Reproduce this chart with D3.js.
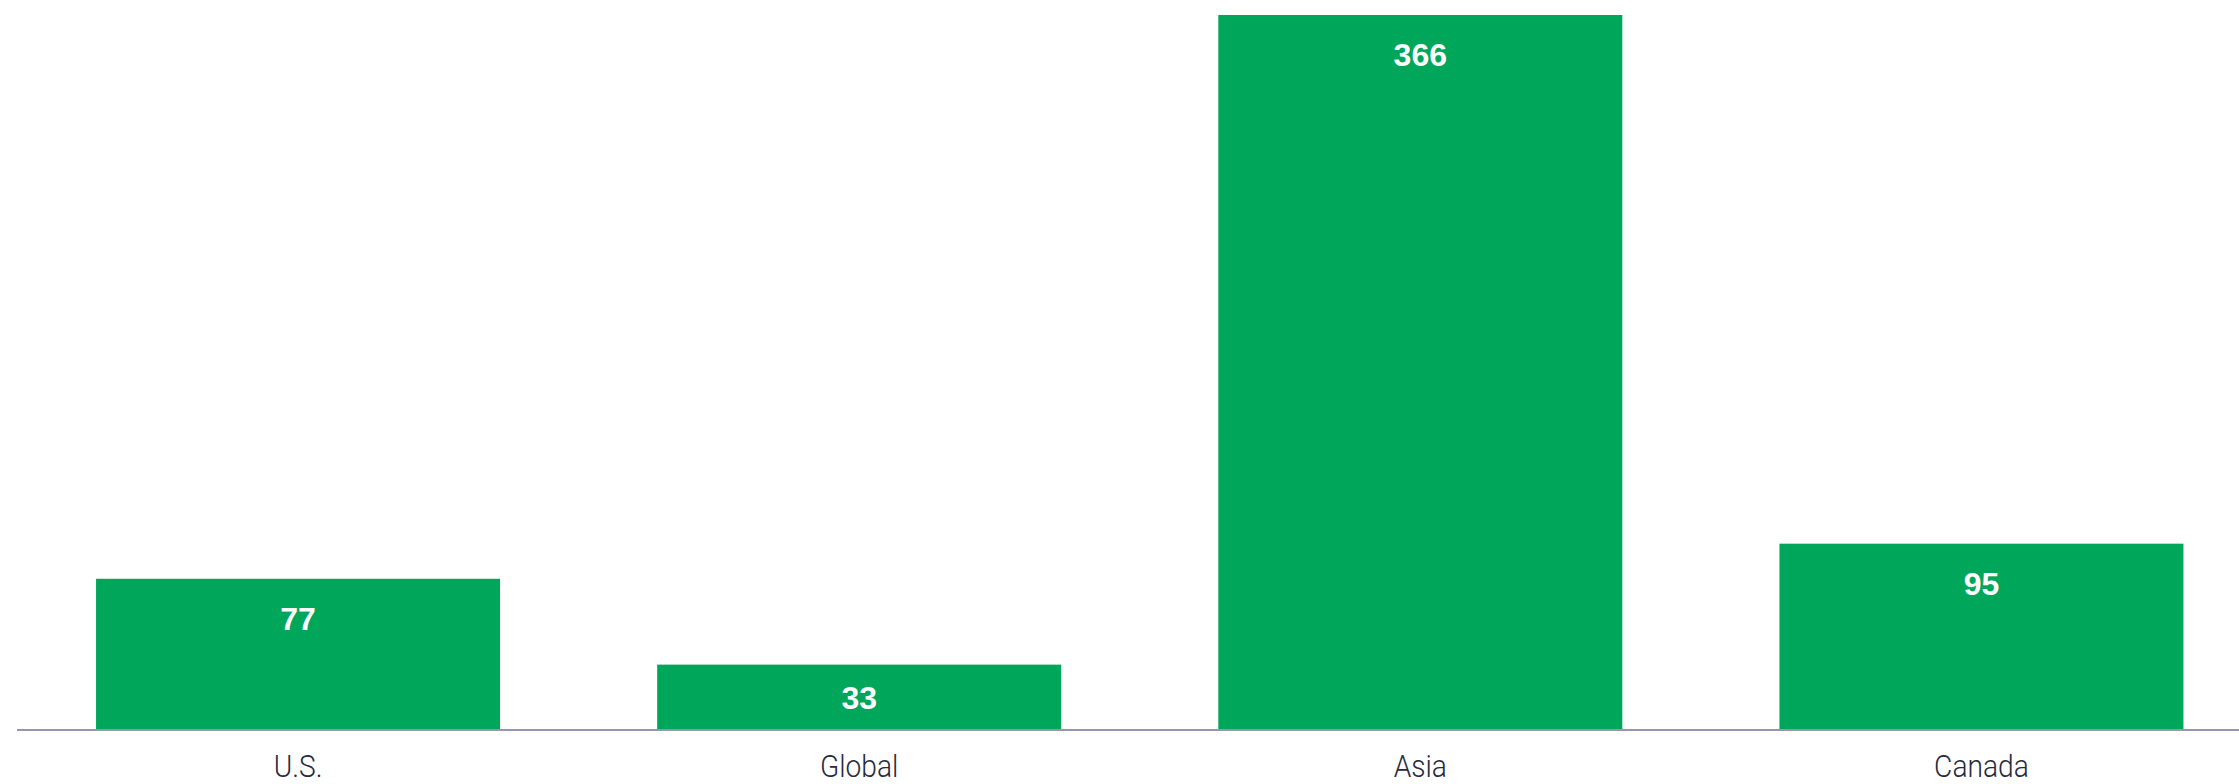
<!DOCTYPE html>
<html>
<head>
<meta charset="utf-8">
<script src="https://cdn.jsdelivr.net/npm/d3@7"></script>
<style>
  html, body { margin: 0; padding: 0; background: #ffffff; }
  svg { display: block; }
</style>
</head>
<body>
<svg id="chart" width="2239" height="784"></svg>
<script>
const categories = ["U.S.", "Global", "Asia", "Canada"];
const values = [77, 33, 366, 95];

const W = 2239, H = 784;
const svg = d3.select("#chart");

const x = d3.scaleBand()
  .domain(categories)
  .range([17.5, 2262])
  .paddingInner(0.28)
  .paddingOuter(0.14);

const y = d3.scaleLinear()
  .domain([0, 366])
  .range([729, 15]);

const data = categories.map((c, i) => ({ c, v: values[i] }));

svg.selectAll("rect.bar")
  .data(data)
  .join("rect")
  .attr("class", "bar")
  .attr("x", d => x(d.c))
  .attr("width", x.bandwidth())
  .attr("y", d => y(d.v))
  .attr("height", d => y(0) - y(d.v))
  .attr("fill", "#00a659");

svg.selectAll("text.val")
  .data(data)
  .join("text")
  .attr("class", "val")
  .attr("x", d => x(d.c) + x.bandwidth() / 2)
  .attr("y", d => y(d.v) + Math.min(51, (y(0) - y(d.v)) / 2 + 12))
  .attr("text-anchor", "middle")
  .attr("font-family", "'Liberation Sans', Arial, sans-serif")
  .attr("font-weight", "bold")
  .attr("font-size", 32)
  .attr("fill", "#ffffff")
  .text(d => d.v);

// axis baseline
const xAxis = d3.axisBottom(x).tickSize(0).tickPadding(0);
const gx = svg.append("g")
  .attr("transform", `translate(0, ${y(0) + 1})`)
  .call(xAxis);
gx.select(".domain").remove();
gx.append("line")
  .attr("x1", 17).attr("x2", W)
  .attr("y1", 0).attr("y2", 0)
  .attr("stroke", "#9897aa")
  .attr("stroke-width", 2);
gx.selectAll(".tick text")
  .attr("y", 47)
  .attr("dy", 0)
  .attr("transform", "scale(0.88,1)")
  .attr("font-family", "Roboto, sans-serif")
  .attr("font-weight", 300)
  .attr("font-size", 32)
  .attr("fill", "#262a3c");
</script>
</body>
</html>
